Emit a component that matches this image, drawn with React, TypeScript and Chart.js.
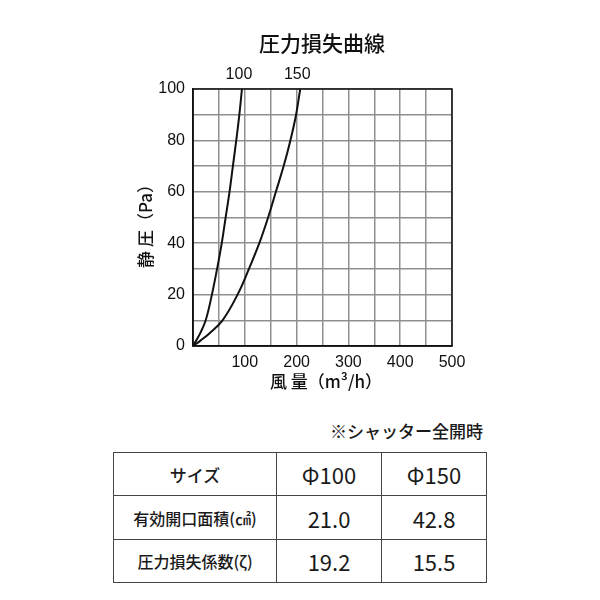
import React, { useEffect, useRef } from "react";
import { Chart, registerables } from "chart.js";

Chart.register(...registerables);

// Data
const pressure = [0, 2.2, 4.8, 10, 20, 30, 40, 50, 60, 70, 80, 90, 100];
const flow100 = [0, 6.5, 13.5, 24.5, 36.5, 46.5, 55.5, 63, 70.5, 77, 83.5, 89.5, 94.5];
const flow150 = [0, 15, 31, 57, 86, 108, 128, 145, 160, 175, 188, 199, 207];
const seriesNames = ["100", "150"];

const chartTitle = "圧力損失曲線";
const xTitle = "風 量（m³/h）";
const yTitle = "静 圧（Pa）";

const noteText = "※シャッター全開時";
const tableHeader = ["サイズ", "Φ100", "Φ150"];
const tableRowLabels = ["有効開口面積(㎠)", "圧力損失係数(ζ)"];
const tableValues100 = ["21.0", "19.2"];
const tableValues150 = ["42.8", "15.5"];

const CJK = "'Noto Sans CJK JP', 'Noto Sans', sans-serif";
const LAT = "'Liberation Sans', Arial, sans-serif";

const textPlugin = {
  id: "textPlugin",
  afterDraw(chart: any) {
    const { ctx, chartArea } = chart;
    ctx.save();
    // border around plot
    ctx.strokeStyle = "#111";
    ctx.lineWidth = 1.5;
    ctx.strokeRect(chartArea.left, chartArea.top, chartArea.right - chartArea.left, chartArea.bottom - chartArea.top);

    ctx.fillStyle = "#111";
    ctx.textAlign = "center";
    ctx.textBaseline = "middle";
    ctx.font = `500 21px ${CJK}`;
    ctx.fillText(chartTitle, 322, 43);

    // curve labels
    ctx.font = `16px ${LAT}`;
    chart.data.datasets.forEach((ds: any, i: number) => {
      const meta = chart.getDatasetMeta(i);
      const last = meta.data[meta.data.length - 1];
      if (last) ctx.fillText(seriesNames[i], last.x - 3, chartArea.top - 14);
    });

    // axis titles
    ctx.font = `500 17px ${CJK}`;
    ctx.fillText(xTitle, 326, 382);
    ctx.translate(146, 222);
    ctx.rotate(-Math.PI / 2);
    ctx.fillText(yTitle, 0, 0);
    ctx.restore();
  },
};

function PressureChart() {
  const ref = useRef<HTMLCanvasElement>(null);
  useEffect(() => {
    if (!ref.current) return;
    const mk = (label: string, xs: number[]) => ({
      label,
      data: xs.map((x, i) => ({ x, y: pressure[i] })),
      borderColor: "#111",
      borderWidth: 2,
      pointRadius: 0,
      tension: 0.4,
      fill: false,
    });
    const chart = new Chart(ref.current, {
      type: "line",
      data: { datasets: [mk(seriesNames[0], flow100), mk(seriesNames[1], flow150)] },
      options: {
        responsive: false,
        animation: false,
        layout: { padding: { left: 0, right: 148, top: 89, bottom: 0 } },
        plugins: { legend: { display: false }, tooltip: { enabled: false }, title: { display: false } },
        scales: {
          x: {
            type: "linear",
            min: 0,
            max: 500,
            afterFit: (s: any) => {
              s.height = 54;
            },
            grid: { color: "#8f8f8f", lineWidth: 1.5, drawTicks: false },
            border: { display: true, color: "#111", width: 1.5 },
            ticks: {
              stepSize: 50,
              padding: 7,
              color: "#111",
              font: { family: LAT, size: 16 },
              maxRotation: 0,
              autoSkip: false,
              callback: (v: any) => (v % 100 === 0 && v !== 0 ? String(v) : ""),
            },
          },
          y: {
            type: "linear",
            min: 0,
            max: 100,
            afterFit: (s: any) => {
              s.width = 193;
            },
            grid: { color: "#8f8f8f", lineWidth: 1.5, drawTicks: false },
            border: { display: true, color: "#111", width: 1.5 },
            ticks: {
              stepSize: 10,
              padding: 8,
              color: "#111",
              font: { family: LAT, size: 16 },
              autoSkip: false,
              callback: (v: any) => (v % 20 === 0 ? String(v) : ""),
            },
          },
        },
      },
      plugins: [textPlugin],
    } as any);
    return () => chart.destroy();
  }, []);
  return <canvas ref={ref} width={600} height={400} style={{ width: 600, height: 400, display: "block" }} />;
}

export default function App() {
  const cell: React.CSSProperties = {
    border: "1.5px solid #444",
    textAlign: "center",
    verticalAlign: "middle",
    padding: 0,
    color: "#1a1a1a",
  };
  const labelCell: React.CSSProperties = { ...cell, fontSize: 16, fontWeight: 500, width: 162 };
  const numCell: React.CSSProperties = { ...cell, fontSize: 22, fontWeight: 400, width: 104 };
  return (
    <div style={{ position: "absolute", left: 0, top: 0, width: 600, height: 600, background: "#fff", fontFamily: CJK }}>
      <PressureChart />
      <div
        style={{
          position: "absolute",
          right: 117,
          top: 420,
          fontSize: 17,
          fontWeight: 500,
          lineHeight: "22px",
          color: "#1a1a1a",
        }}
      >
        {noteText}
      </div>
      <table
        style={{
          position: "absolute",
          left: 113,
          top: 452,
          borderCollapse: "collapse",
          tableLayout: "fixed",
          width: 371,
        }}
      >
        <tbody>
          <tr style={{ height: 43 }}>
            <td style={{ ...labelCell, fontSize: 17 }}>{tableHeader[0]}</td>
            <td style={numCell}>{tableHeader[1]}</td>
            <td style={numCell}>{tableHeader[2]}</td>
          </tr>
          {tableRowLabels.map((lab, i) => (
            <tr key={lab} style={{ height: i === 0 ? 44 : 43 }}>
              <td style={labelCell}>{lab}</td>
              <td style={numCell}>{tableValues100[i]}</td>
              <td style={numCell}>{tableValues150[i]}</td>
            </tr>
          ))}
        </tbody>
      </table>
    </div>
  );
}
